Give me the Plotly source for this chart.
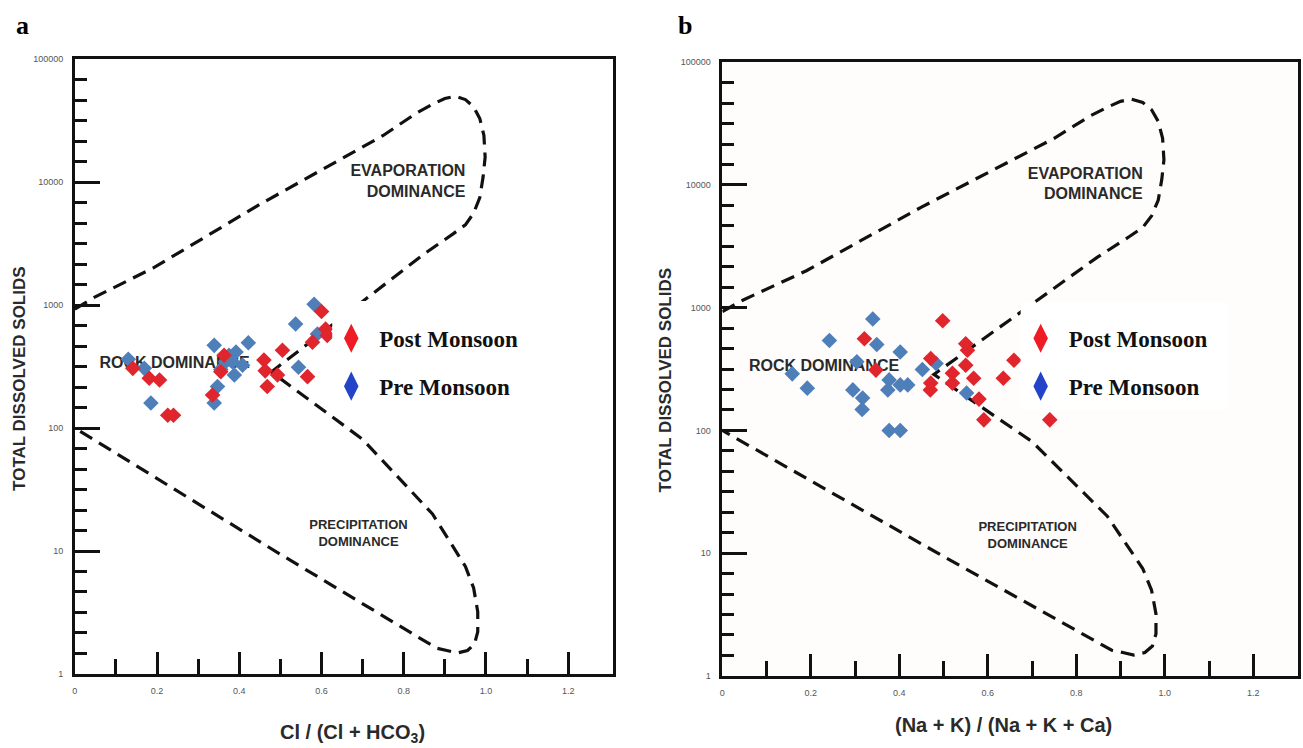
import plotly.graph_objects as go

# ---------------- data ----------------
# Panel a : Cl / (Cl + HCO3) vs TDS
a_pre_x = [0.130, 0.169, 0.185, 0.339, 0.347, 0.339, 0.367, 0.392, 0.383, 0.388, 0.408, 0.422,
           0.537, 0.582, 0.590, 0.544, 0.355, 0.375]
a_pre_tds = [363, 306, 160, 471, 218, 160, 346, 416, 346, 270, 325, 494,
             703, 1016, 583, 312, 300, 390]
a_post_x = [0.141, 0.181, 0.206, 0.226, 0.240, 0.335, 0.355, 0.363, 0.460, 0.463, 0.468, 0.493,
            0.505, 0.566, 0.600, 0.610, 0.614, 0.578]
a_post_tds = [306, 254, 246, 127, 127, 186, 287, 391, 357, 292, 218, 270,
              429, 262, 887, 640, 566, 500]

# Panel b : (Na + K) / (Na + K + Ca) vs TDS
b_pre_x = [0.340, 0.242, 0.349, 0.402, 0.158, 0.192, 0.295, 0.317, 0.316, 0.377, 0.374, 0.402,
           0.419, 0.377, 0.402, 0.452, 0.483, 0.552, 0.304]
b_pre_tds = [809, 541, 502, 436, 289, 221, 214, 184, 148, 258, 214, 235,
             235, 100, 100, 314, 351, 202, 362]
b_post_x = [0.321, 0.498, 0.347, 0.471, 0.471, 0.470, 0.520, 0.520, 0.550, 0.554, 0.550, 0.568,
            0.580, 0.591, 0.635, 0.659, 0.740]
b_post_tds = [558, 783, 310, 385, 243, 214, 292, 243, 509, 450, 340, 266,
              180, 122, 266, 373, 122]

# Gibbs boundary envelope (template outline)
env_x = [0.0, 0.046, 0.19, 0.45, 0.75, 0.83, 0.87, 0.90, 0.925, 0.95, 0.97, 0.985, 0.995, 0.998,
         0.993, 0.985, 0.97, 0.95, 0.92, 0.847, 0.478,
         0.70, 0.87, 0.92, 0.95, 0.97, 0.98, 0.98, 0.972, 0.955, 0.93, 0.905, 0.88, 0.5, 0.19, 0.0]
env_tds = [930, 1150, 2000, 6600, 24000, 36300, 43000, 48000, 50000, 47000, 41000, 33000, 24000, 16000,
           11000, 7500, 5600, 4500, 3800, 2570, 286,
           81, 20, 11, 7.5, 5, 3.2, 2.2, 1.75, 1.55, 1.48, 1.55, 1.62, 9.4, 40.7, 100]

# Field labels of the Gibbs template
zone_text = ["EVAPORATION<br>DOMINANCE", "ROCK DOMINANCE", "PRECIPITATION<br>DOMINANCE"]
zone_x = [0.95, 0.06, 0.69]
zone_tds = [10000, 331, 13.8]
zone_pos = ["middle left", "middle right", "middle center"]
zone_size = [16, 16, 13]

y_ticks = [1, 10, 100, 1000, 10000, 100000]
y_ticktext = ["1", "10", "100", "1000", "10000", "100000"]
x_ticks = [0, 0.2, 0.4, 0.6, 0.8, 1.0, 1.2]
x_ticktext = ["0", "0.2", "0.4", "0.6", "0.8", "1.0", "1.2"]
x_minor = [0.1, 0.3, 0.5, 0.7, 0.9, 1.1]
y_minor = [10 ** (d + k / 6) for d in range(5) for k in range(1, 6)]

PRE_COLOR = "#4f7fb9"
POST_COLOR = "#e0252c"

fig = go.Figure()

for xa, ya in (("x", "y"), ("x2", "y2")):
    fig.add_trace(go.Scatter(x=env_x, y=env_tds, mode="lines", xaxis=xa, yaxis=ya,
                             line=dict(color="#111111", width=3.2, dash="14px,8px"),
                             showlegend=False, hoverinfo="skip"))
    for t, zx, zy, zp, zs in zip(zone_text, zone_x, zone_tds, zone_pos, zone_size):
        fig.add_trace(go.Scatter(x=[zx], y=[zy], mode="text", text=[t], textposition=zp,
                                 xaxis=xa, yaxis=ya, showlegend=False, hoverinfo="skip",
                                 textfont=dict(family="Liberation Sans", size=zs, color="#2a2a2a",
                                               weight="bold")))

fig.add_trace(go.Scatter(x=a_pre_x, y=a_pre_tds, mode="markers", xaxis="x", yaxis="y",
                         marker=dict(symbol="diamond", size=12, color=PRE_COLOR),
                         showlegend=False, name="Pre Monsoon"))
fig.add_trace(go.Scatter(x=a_post_x, y=a_post_tds, mode="markers", xaxis="x", yaxis="y",
                         marker=dict(symbol="diamond", size=12, color=POST_COLOR),
                         showlegend=False, name="Post Monsoon"))
fig.add_trace(go.Scatter(x=b_pre_x, y=b_pre_tds, mode="markers", xaxis="x2", yaxis="y2",
                         marker=dict(symbol="diamond", size=12, color=PRE_COLOR),
                         showlegend=False, name="Pre Monsoon"))
fig.add_trace(go.Scatter(x=b_post_x, y=b_post_tds, mode="markers", xaxis="x2", yaxis="y2",
                         marker=dict(symbol="diamond", size=12, color=POST_COLOR),
                         showlegend=False, name="Post Monsoon"))

# legend keys
for xa, ya, lg in (("x", "y", "legend"), ("x2", "y2", "legend2")):
    fig.add_trace(go.Scatter(x=[None], y=[None], mode="markers", xaxis=xa, yaxis=ya,
                             name="Post Monsoon", legend=lg, legendgroup="post" + lg,
                             marker=dict(symbol="diamond-tall", size=16, color="#ee1c25",
                                         line=dict(width=3, color="#ee1c25"))))
    fig.add_trace(go.Scatter(x=[None], y=[None], mode="markers", xaxis=xa, yaxis=ya,
                             name="Pre Monsoon", legend=lg, legendgroup="pre" + lg,
                             marker=dict(symbol="diamond-tall", size=16, color="#2343c8",
                                         line=dict(width=3, color="#2343c8"))))

W, H = 1303, 748
def px(x):
    return x / W
def py(y):
    return 1 - y / H

axis_common = dict(showline=True, linecolor="#111111", linewidth=2.5, mirror=True,
                   showgrid=False, zeroline=False, ticks="inside", tickcolor="#111111",
                   tickwidth=2.5, tickfont=dict(family="Liberation Sans", size=9, color="#555555"))

xa_common = dict(axis_common, tickmode="array", tickvals=x_ticks, ticktext=x_ticktext, ticklen=22,
                 ticklabelstandoff=7,
                 minor=dict(tickmode="array", tickvals=x_minor, ticks="inside", ticklen=15,
                            tickwidth=2.5, tickcolor="#111111"))
ya_common = dict(axis_common, type="log", tickmode="array", tickvals=y_ticks, ticktext=y_ticktext,
                 ticklen=25, range=[0, 5], ticklabelstandoff=7,
                 minor=dict(tickmode="array", tickvals=y_minor, ticks="inside", ticklen=12,
                            tickwidth=2.5, tickcolor="#111111"))

leg_font = dict(family="Liberation Serif", size=23, color="#111111", weight="bold")
fig.update_layout(
    width=W, height=H, margin=dict(l=0, r=0, t=0, b=0),
    paper_bgcolor="white", plot_bgcolor="white",
    xaxis=dict(xa_common, domain=[px(72), px(611)], range=[0, 1.308], anchor="y"),
    yaxis=dict(ya_common, domain=[py(678), py(55)], anchor="x"),
    xaxis2=dict(xa_common, domain=[px(721), px(1298)], range=[0, 1.301], anchor="y2"),
    yaxis2=dict(ya_common, domain=[py(680), py(58)], anchor="x2"),
    legend=dict(x=px(321), y=py(316), xanchor="left", yanchor="top", bgcolor="rgba(0,0,0,0)",
                font=leg_font, tracegroupgap=15, itemwidth=46),
    legend2=dict(x=px(1012), y=py(316), xanchor="left", yanchor="top", bgcolor="rgba(0,0,0,0)",
                 font=leg_font, tracegroupgap=15, itemwidth=46),
    shapes=[
        dict(type="rect", xref="x2 domain", yref="y2 domain", x0=0, x1=1, y0=0, y1=1,
             fillcolor="#fffcfc", line=dict(width=0), layer="below"),
        dict(type="rect", xref="paper", yref="paper", x0=px(330), x1=px(608), y0=py(415), y1=py(300),
             fillcolor="white", line=dict(width=0), layer="above"),
        dict(type="rect", xref="paper", yref="paper", x0=px(1020), x1=px(1228), y0=py(410), y1=py(302),
             fillcolor="white", line=dict(width=0), layer="above"),
    ],
)

ann = []
title_font = dict(family="Liberation Sans", size=17, color="#2a2a2a", weight="bold")
ann.append(dict(xref="paper", yref="paper", x=px(17), y=py(378), text="TOTAL DISSOLVED SOLIDS",
                textangle=-90, showarrow=False, font=title_font, xanchor="center", yanchor="middle"))
ann.append(dict(xref="paper", yref="paper", x=px(664), y=py(380), text="TOTAL DISSOLVED SOLIDS",
                textangle=-90, showarrow=False, font=title_font, xanchor="center", yanchor="middle"))
ax_font = dict(family="Liberation Sans", size=20, color="#2a2a2a", weight="bold")
ann.append(dict(xref="paper", yref="paper", x=px(350), y=py(738), text="Cl / (Cl + HCO<sub>3</sub>)",
                showarrow=False, font=ax_font, xanchor="center", yanchor="middle"))
ann.append(dict(xref="paper", yref="paper", x=px(1003), y=py(730), text="(Na + K) / (Na + K + Ca)",
                showarrow=False, font=ax_font, xanchor="center", yanchor="middle"))
panel_font = dict(family="Liberation Serif", size=26, color="#000000", weight="bold")
ann.append(dict(xref="paper", yref="paper", x=px(20), y=py(21), text="a", showarrow=False,
                font=panel_font, xanchor="center", yanchor="middle"))
ann.append(dict(xref="paper", yref="paper", x=px(684), y=py(21), text="b", showarrow=False,
                font=panel_font, xanchor="center", yanchor="middle"))
fig.update_layout(annotations=ann)

fig.write_html("out.html")
